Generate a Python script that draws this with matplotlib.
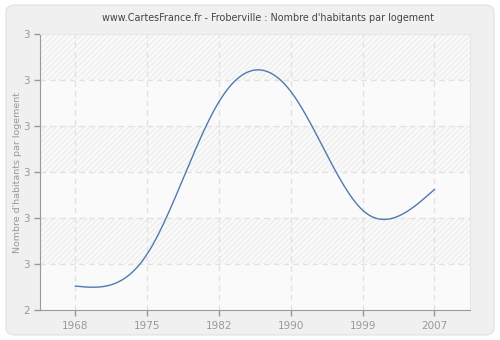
import numpy as np
import matplotlib.pyplot as plt
from matplotlib.patches import FancyBboxPatch

# data
years = ['1968', '1975', '1982', '1990', '1999', '2007']
values = [2.452, 2.522, 2.853, 2.875, 2.617, 2.662]
ytick_vals = [2.4, 2.5, 2.6, 2.7, 2.8, 2.9, 3.0]
ytick_labels = ['2', '3', '3', '3', '3', '3', '3']


def natural_spline(x, y, n=300):
    # plain natural cubic spline, used only to smooth the line between points
    x = np.asarray(x, float)
    y = np.asarray(y, float)
    k = len(x)
    h = np.diff(x)
    A = np.zeros((k, k))
    b = np.zeros(k)
    A[0, 0] = A[-1, -1] = 1
    for i in range(1, k - 1):
        A[i, i - 1] = h[i - 1]
        A[i, i] = 2 * (h[i - 1] + h[i])
        A[i, i + 1] = h[i]
        b[i] = 3 * ((y[i + 1] - y[i]) / h[i] - (y[i] - y[i - 1]) / h[i - 1])
    c = np.linalg.solve(A, b)
    xs = np.linspace(x[0], x[-1], n)
    ys = np.empty_like(xs)
    for j, xv in enumerate(xs):
        i = min(np.searchsorted(x, xv, side='right') - 1, k - 2)
        dx = xv - x[i]
        bi = (y[i + 1] - y[i]) / h[i] - h[i] * (2 * c[i] + c[i + 1]) / 3
        di = (c[i + 1] - c[i]) / (3 * h[i])
        ys[j] = y[i] + bi * dx + c[i] * dx ** 2 + di * dx ** 3
    return xs, ys


fig = plt.figure(figsize=(5, 3.4), dpi=100)
fig.patch.set_facecolor('#ffffff')
card = FancyBboxPatch((0.012, 0.015), 0.976, 0.97, boxstyle='round,pad=0,rounding_size=0.02',
                      transform=fig.transFigure, facecolor='#f0f0f0', edgecolor='#e4e4e4', lw=1,
                      zorder=-10)
fig.patches.append(card)

ax = fig.add_axes([0.0806, 0.0882, 0.86, 0.8118])
ax.set_zorder(5)
ax.set_facecolor('#fafafa')

x = np.arange(len(years))
ax.set_xlim(-0.49, 5.5)
ax.set_ylim(2.4, 3.0)

# alternating hatched bands
for i in range(len(ytick_vals) - 1):
    if i % 2 == 1:
        ax.axhspan(ytick_vals[i], ytick_vals[i + 1], facecolor='none', edgecolor='#eeeeee',
                   hatch='//////', lw=0, zorder=0)

for v in ytick_vals[1:-1]:
    ax.axhline(v, color='#e2e2e2', lw=1, ls=(0, (4, 3)), zorder=1)
for xi in x:
    ax.axvline(xi, color='#e2e2e2', lw=1, ls=(0, (4, 3)), zorder=1)

xs, ys = natural_spline(x, values)
ax.plot(xs, ys, color='#4f7ab0', lw=1, zorder=3)

ax.set_xticks(x)
ax.set_xticklabels(years)
ax.set_yticks(ytick_vals)
ax.set_yticklabels(ytick_labels)
ax.tick_params(colors='#999999', labelcolor='#999999', labelsize=7.5, length=4, width=1)
ax.tick_params(axis='x', pad=4)

for s in ['top', 'right']:
    ax.spines[s].set_color('#e6e6e6')
for s in ['left', 'bottom']:
    ax.spines[s].set_color('#999999')

ax.set_ylabel("Nombre d'habitants par logement", color='#999999', fontsize=6.8, labelpad=1)
fig.text(0.536, 0.947, 'www.CartesFrance.fr - Froberville : Nombre d\'habitants par logement',
         ha='center', va='center', fontsize=6.9, color='#444444')

fig.savefig('out.png', dpi=100)
